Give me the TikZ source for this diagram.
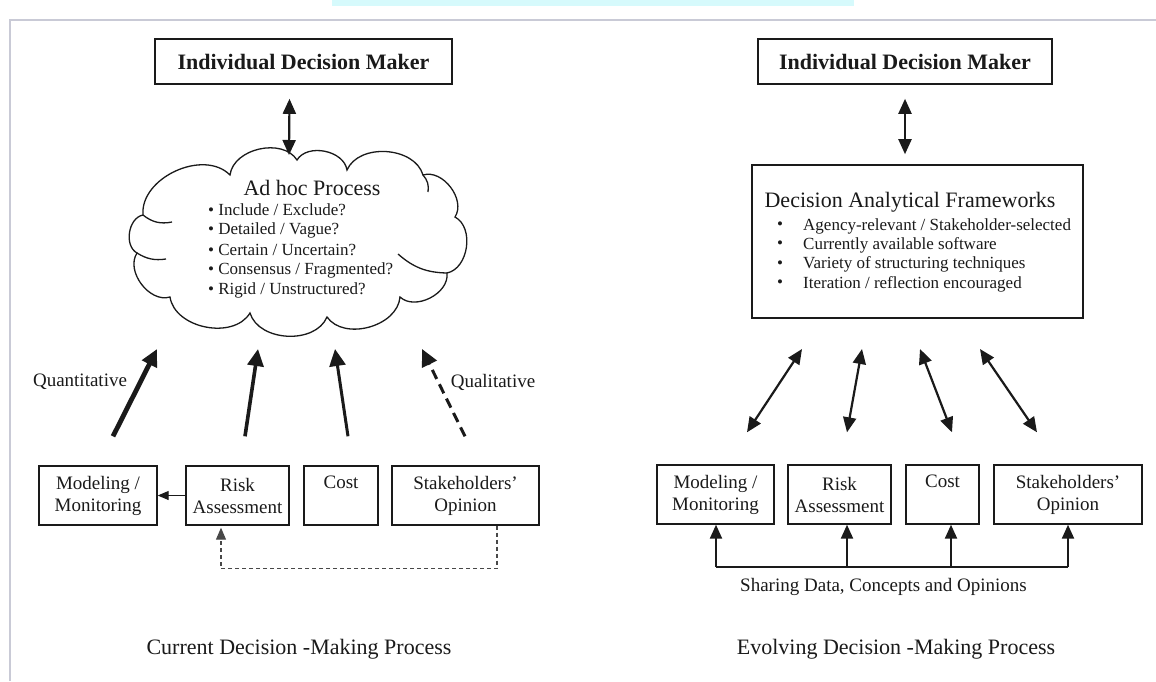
\documentclass[tikz,border=0pt]{standalone}
\usepackage{fontspec}
\setmainfont{Liberation Serif}
\usetikzlibrary{arrows.meta,calc}
\definecolor{ink}{HTML}{1A1A1A}
\definecolor{framegray}{HTML}{C9CAD6}
\definecolor{topcyan}{HTML}{D6FAFC}
\tikzset{
  box/.style={draw=ink, line width=1.4pt, minimum height=59pt, inner sep=0pt, align=center, text=ink, font=\fontsize{19}{22}\selectfont},
  topbox/.style={draw=ink, line width=1.6pt, minimum height=45pt, inner sep=0pt, text=ink, font=\bfseries\fontsize{22}{26}\selectfont},
  lbl/.style={text=ink, inner sep=0pt, font=\fontsize{19}{22}\selectfont},
  captext/.style={text=ink, inner sep=0pt, font=\fontsize{22}{26}\selectfont},
  bul/.style={text=ink, inner sep=0pt, anchor=west, font=\fontsize{17}{20}\selectfont},
  cloudline/.style={draw=ink, line width=1.3pt},
  bigarrow/.style={draw=ink, -{Triangle[length=17pt,width=16pt]}},
  dbl/.style={draw=ink, line width=2.2pt, {Triangle[length=15pt,width=13pt]}-{Triangle[length=15pt,width=13pt]}},
  riser/.style={draw=ink, line width=2.2pt, -{Triangle[length=14pt,width=12pt]}},
  smallarrow/.style={draw=ink, line width=1.2pt, -{Triangle[length=11pt,width=9pt]}},
  feedback/.style={draw=ink!80, line width=1.1pt, dash pattern=on 4pt off 3pt, -{Triangle[length=12pt,width=10pt]}}
}
\begin{document}
\begin{tikzpicture}[x=1pt,y=-1pt]
\useasboundingbox (0,0) rectangle (1156,681);
\fill[white] (0,0) rectangle (1156,681);
\fill[topcyan] (332,0) rectangle (854,6);
\draw[framegray, line width=2pt] (10,681) -- (10,20) -- (1156,20);

% ---------------- left panel ----------------
\node[topbox, minimum width=297pt] (LDM) at (303.5,61.5) {Individual Decision Maker};

% cloud
\draw[cloudline] (143,215) to[bend left=70] (230,175) to[bend left=70] (297,160)
  to[bend left=70] (347,170) to[bend left=70] (423,175) to[bend left=70] (455,217)
  to[bend left=70] (447,273) to[bend left=70] (400,297) to[bend left=70] (327,317)
  to[bend left=70] (250,313) to[bend left=70] (170,297) to[bend left=70] (137,253)
  to[bend left=70] (143,215);
\draw[cloudline] (143,215) to[bend right=25] (172,222);
\draw[cloudline] (423,175) to[bend left=25] (428,192);
\draw[cloudline] (447,273) to[bend left=20] (398,254);
\draw[cloudline] (137,253) to[bend right=20] (166,259);
\coordinate (cloudtop) at (289,155);

\node[text=ink, inner sep=0pt, font=\fontsize{22}{26}\selectfont] (adhoc) at (312,188) {Ad hoc Process};
\node[bul] (c1) at (208,210) {• Include / Exclude?};
\node[bul] (c2) at (208,230) {• Detailed / Vague?};
\node[bul] (c3) at (208,250) {• Certain / Uncertain?};
\node[bul] (c4) at (208,270) {• Consensus / Fragmented?};
\node[bul] (c5) at (208,290) {• Rigid / Unstructured?};
\draw[dbl] ($(LDM.south)+(-14,14)$) -- (cloudtop);

\node[box, minimum width=118pt] (LMod) at (98,495.5) {Modeling /\\Monitoring};
\node[box, minimum width=103pt] (LRisk) at (237.5,495.5) {Risk\\Assessment};
\node[box, minimum width=74pt] (LCost) at (341,495.5) {Cost\\\phantom{Cg}};
\node[box, minimum width=147pt] (LStake) at (465.5,495.5) {Stakeholders'\\Opinion};

\coordinate (t1) at (157,349);
\coordinate (t2) at (258,349);
\coordinate (t3) at (335,349);
\coordinate (t4) at (422,349);
\draw[bigarrow, line width=4.8pt] ($(LMod.north)+(15,-29)$) -- (t1);
\draw[bigarrow, line width=3.6pt] ($(LRisk.north)+(7.5,-29)$) -- (t2);
\draw[bigarrow, line width=3pt] ($(LCost.north)+(7,-29)$) -- (t3);
\draw[bigarrow, line width=3pt, dash pattern=on 10pt off 6pt] ($(LStake.north)+(-0.5,-29)$) -- (t4);
\node[lbl] (quant) at (80,382) {Quantitative};
\node[lbl] (qual) at (493,382) {Qualitative};

\draw[smallarrow] (LRisk.west) -- (LMod.east);
\draw[feedback] ($(LStake.south)+(31.5,0)$) -- ++(0,43) -| ($(LRisk.south)+(-16.5,2)$);

\node[captext] (capL) at (299,649) {Current Decision -Making Process};

% ---------------- right panel ----------------
\node[topbox, minimum width=294pt] (RDM) at (905,61.5) {Individual Decision Maker};
\node[draw=ink, line width=1.6pt, minimum width=331pt, minimum height=153pt, inner sep=0pt] (DAF) at (917.5,241.5) {};
\node[text=ink, inner sep=0pt, font=\fontsize{22}{26}\selectfont] (daft) at (910,202) {Decision Analytical Frameworks};
\node[bul] (b1) at (777,226) {•};
\node[bul] (b2) at (777,245) {•};
\node[bul] (b3) at (777,264.5) {•};
\node[bul] (b4) at (777,284) {•};
\node[bul] (d1) at (803,226) {Agency-relevant / Stakeholder-selected};
\node[bul] (d2) at (803,245) {Currently available software};
\node[bul] (d3) at (803,264.5) {Variety of structuring techniques};
\node[bul] (d4) at (803,284) {Iteration / reflection encouraged};
\draw[dbl] ($(RDM.south)+(0,14)$) -- ($(DAF.north)+(-12.5,-10)$);

\node[box, minimum width=117pt] (RMod) at (715.5,494.5) {Modeling /\\Monitoring};
\node[box, minimum width=103pt] (RRisk) at (839.5,494.5) {Risk\\Assessment};
\node[box, minimum width=73pt] (RCost) at (942.5,494.5) {Cost\\\phantom{Cg}};
\node[box, minimum width=148pt] (RStake) at (1068,494.5) {Stakeholders'\\Opinion};

\coordinate (u1) at (802,349);
\coordinate (u2) at (862,349);
\coordinate (u3) at (920,349);
\coordinate (u4) at (980,349);
\draw[dbl] ($(RMod.north)+(31.5,-32)$) -- (u1);
\draw[dbl] ($(RRisk.north)+(7.5,-32)$) -- (u2);
\draw[dbl] ($(RCost.north)+(9.5,-32)$) -- (u3);
\draw[dbl] ($(RStake.north)+(-31,-32)$) -- (u4);

\coordinate (busL) at (716,567);
\coordinate (busR) at (1068,567);
\draw[ink, line width=2.2pt] (busL) -- (busR);
\draw[riser] (busL) -- (busL |- RMod.south);
\draw[riser] ($(RRisk.south)+(7.5,43)$) -- ($(RRisk.south)+(7.5,0)$);
\draw[riser] ($(RCost.south)+(8.5,43)$) -- ($(RCost.south)+(8.5,0)$);
\draw[riser] (busR) -- (RStake.south);
\node[lbl] (share) at (883.5,587) {Sharing Data, Concepts and Opinions};

\node[captext] (capR) at (896,649) {Evolving Decision -Making Process};
\end{tikzpicture}
\end{document}
